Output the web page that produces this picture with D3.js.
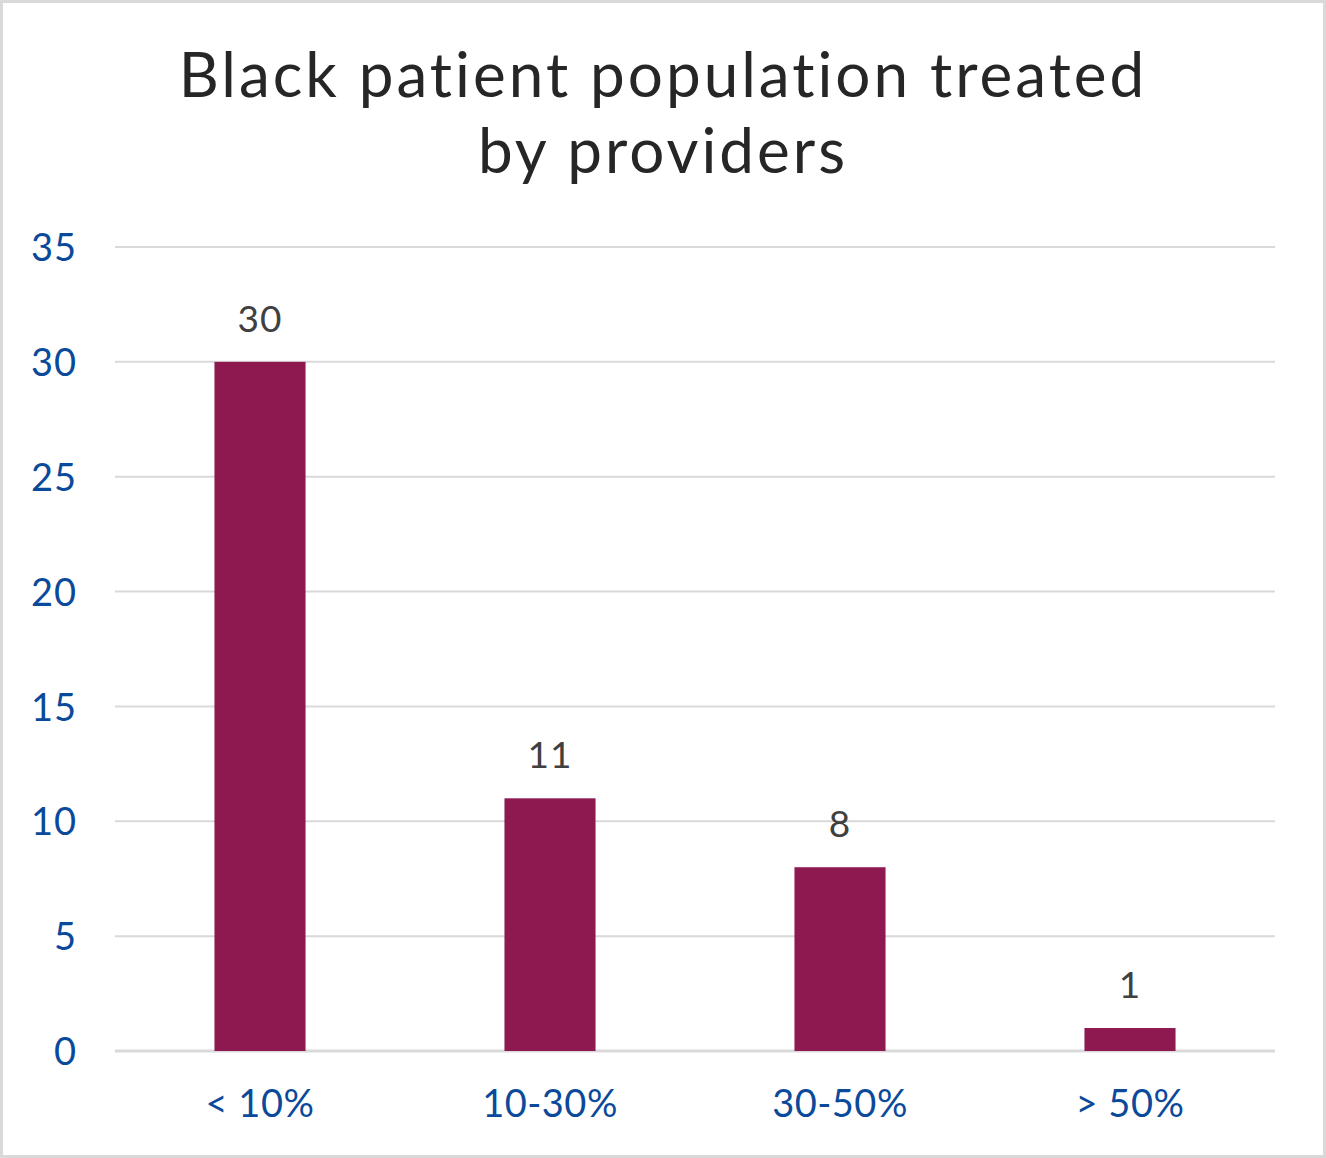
<!DOCTYPE html>
<html lang="en">
<head>
  <meta charset="UTF-8">
  <title>Black patient population treated by providers</title>
  <script src="https://d3js.org/d3.v7.min.js"></script>
  <style>
    body { margin: 0; background: #fff; }
    text { font-family: 'Lato', 'Open Sans', sans-serif; font-variant-ligatures: none; }
  </style>
</head>
<body>
<div id="chart"></div>
<script>
    const titleLines = ["Black patient population treated", "by providers"];
    const categories = ["< 10%", "10-30%", "30-50%", "> 50%"];
    const values = [30, 11, 8, 1];
    const yTicks = [0, 5, 10, 15, 20, 25, 30, 35];

    const W = 1326, H = 1158;
    const margin = { top: 247, right: 51, bottom: 107, left: 115 },
        width = W - margin.left - margin.right,
        height = H - margin.top - margin.bottom;

    const root = d3.select("#chart").append("svg")
        .attr("width", W)
        .attr("height", H);

    // outer frame
    root.append("rect")
        .attr("x", 1.5).attr("y", 1.5)
        .attr("width", W - 3).attr("height", H - 3)
        .attr("fill", "#fff")
        .attr("stroke", "#d9d9d9")
        .attr("stroke-width", 3);

    // title
    root.append("text")
        .attr("x", W / 2)
        .attr("y", 97)
        .attr("text-anchor", "middle")
        .style("font-size", "62px")
        .style("letter-spacing", "3px")
        .style("fill", "#262626")
        .selectAll("tspan")
        .data(titleLines)
        .join("tspan")
        .attr("x", W / 2)
        .attr("dy", (d, i) => i === 0 ? 0 : 76)
        .text(d => d);

    const svg = root.append("g")
        .attr("transform", `translate(${margin.left}, ${margin.top})`);

    const x = d3.scaleBand()
        .domain(categories)
        .range([0, width])
        .paddingInner(0.686)
        .paddingOuter(0.343);

    const y = d3.scaleLinear()
        .domain([0, 35])
        .range([height, 0]);

    // gridlines
    svg.append("g")
        .selectAll("line")
        .data(yTicks)
        .join("line")
        .attr("x1", 0).attr("x2", width)
        .attr("y1", d => y(d)).attr("y2", d => y(d))
        .attr("stroke", "#d9d9d9")
        .attr("stroke-width", d => d === 0 ? 3 : 2);

    // y axis labels
    const yAxis = svg.append("g")
        .attr("transform", "translate(-38, 0)")
        .call(d3.axisLeft(y).tickValues(yTicks).tickSize(0).tickPadding(0));
    yAxis.select(".domain").remove();
    yAxis.selectAll("text")
        .style("font-family", "'Lato', sans-serif")
        .style("font-size", "38px")
        .style("letter-spacing", "1px")
        .style("fill", "#0b4a9a")
        .attr("dy", "0.36em");

    // bars
    svg.append("g")
        .selectAll("rect")
        .data(values)
        .join("rect")
        .attr("x", (d, i) => x(categories[i]))
        .attr("y", d => y(d))
        .attr("width", x.bandwidth())
        .attr("height", d => y(0) - y(d))
        .attr("fill", "#8e1850");

    // data labels
    svg.append("g")
        .selectAll("text")
        .data(values)
        .join("text")
        .attr("x", (d, i) => x(categories[i]) + x.bandwidth() / 2)
        .attr("y", d => y(d) - 30)
        .attr("text-anchor", "middle")
        .style("font-size", "37px")
        .style("letter-spacing", "1px")
        .style("fill", "#404040")
        .text(d => d);

    // x axis labels
    const xAxis = svg.append("g")
        .attr("transform", `translate(0, ${height})`)
        .call(d3.axisBottom(x).tickSize(0).tickPadding(0));
    xAxis.select(".domain").remove();
    xAxis.selectAll("text")
        .attr("y", 66)
        .attr("dy", 0)
        .style("font-family", "'Lato', sans-serif")
        .style("font-size", "38px")
        .style("letter-spacing", "0.5px")
        .style("fill", "#0b4a9a");
</script>
</body>
</html>
